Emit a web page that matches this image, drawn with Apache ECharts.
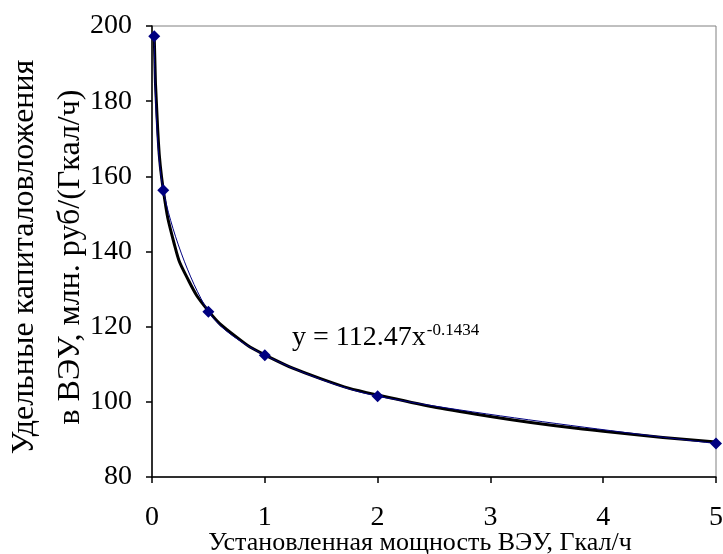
<!DOCTYPE html>
<html>
<head>
<meta charset="utf-8">
<title>Удельные капиталовложения в ВЭУ</title>
<style>
  html, body { margin: 0; padding: 0; background: #fff; }
  #chart { width: 723px; height: 554px; }
</style>
</head>
<body>
<div id="chart"></div>
<script src="https://cdn.jsdelivr.net/npm/echarts@6/dist/echarts.min.js"></script>
<script>
// точки данных (установленная мощность, Гкал/ч -> удельные капвложения)
var powerX = [0.02, 0.1, 0.5, 1, 2, 5];
var costY = [197.3, 156.3, 124.0, 112.4, 101.5, 88.9];

// степенная линия тренда
var trendX = [0.02, 0.05, 0.1, 0.2, 0.3, 0.5, 0.75, 1, 1.5, 2, 3, 4, 5];
var trendY = [197.0, 172.8, 156.4, 141.7, 133.7, 124.2, 117.2, 112.5, 106.1, 101.8, 96.1, 92.2, 89.3];

var xTicks = [0, 1, 2, 3, 4, 5];
var yTicks = [80, 100, 120, 140, 160, 180, 200];

var yTitle = ['Удельные капиталовложения', 'в ВЭУ, млн. руб/(Гкал/ч)'];
var xTitle = 'Установленная мощность ВЭУ, Гкал/ч';
var eqMain = 'y = 112.47x';
var eqPow = '-0.1434';

function pairs(xs, ys) {
    var out = [];
    for (var i = 0; i < xs.length; i++) out.push([xs[i], ys[i]]);
    return out;
}

var font = '"Liberation Serif", "Times New Roman", serif';

// ширина основной части уравнения, чтобы поставить степень справа
var ctx = document.createElement('canvas').getContext('2d');
ctx.font = '28px ' + font;
var eqX = 292;
var powX = eqX + ctx.measureText(eqMain).width + 1;

var chart = echarts.init(document.getElementById('chart'));

var option = {
    animation: false,
    textStyle: { fontFamily: font },
    grid: {
        left: 152, right: 7, top: 26, bottom: 77,
        outerBoundsMode: 'none',
        show: true, borderColor: '#808080', borderWidth: 1
    },
    xAxis: {
        type: 'value',
        min: xTicks[0], max: xTicks[xTicks.length - 1], interval: 1,
        name: xTitle,
        nameLocation: 'middle', nameGap: 53, nameMoveOverlap: false,
        nameTextStyle: { fontFamily: font, fontSize: 26, color: '#000', padding: [0, 28, 0, 0] },
        axisLine: { lineStyle: { color: '#000', width: 1.5 } },
        axisTick: { show: true, length: 6, lineStyle: { color: '#000', width: 1.5 } },
        axisLabel: { margin: 27, fontFamily: font, fontSize: 28, color: '#000' },
        splitLine: { show: false }
    },
    yAxis: {
        type: 'value',
        min: yTicks[0], max: yTicks[yTicks.length - 1], interval: 20,
        axisLine: { lineStyle: { color: '#000', width: 1.5 } },
        axisTick: { show: true, length: 6, lineStyle: { color: '#000', width: 1.5 } },
        axisLabel: { margin: 20, fontFamily: font, fontSize: 28, color: '#000' },
        splitLine: { show: false }
    },
    series: [
        {
            name: 'data',
            type: 'line',
            data: pairs(powerX, costY),
            smooth: 0.3,
            symbol: 'diamond',
            symbolSize: 12,
            itemStyle: { color: '#000080' },
            lineStyle: { color: '#000080', width: 1 },
            z: 3
        },
        {
            name: 'trend',
            type: 'line',
            data: pairs(trendX, trendY),
            smooth: true,
            showSymbol: false,
            lineStyle: { color: '#000', width: 3 },
            z: 2
        }
    ],
    graphic: [
        {
            // подпись оси Y, две строки
            type: 'text',
            x: 48, y: 257,
            rotation: Math.PI / 2,
            style: {
                text: yTitle.join('\n'),
                fontFamily: font, fontSize: 32, fill: '#000',
                align: 'center', verticalAlign: 'middle', lineHeight: 46
            }
        },
        {
            type: 'text',
            x: eqX, y: 338,
            style: {
                text: eqMain,
                fontFamily: font, fontSize: 28, fill: '#000',
                align: 'left', verticalAlign: 'middle'
            }
        },
        {
            type: 'text',
            x: powX, y: 331,
            style: {
                text: eqPow,
                fontFamily: font, fontSize: 17, fill: '#000',
                align: 'left', verticalAlign: 'middle'
            }
        }
    ]
};
chart.setOption(option);
</script>
</body>
</html>
